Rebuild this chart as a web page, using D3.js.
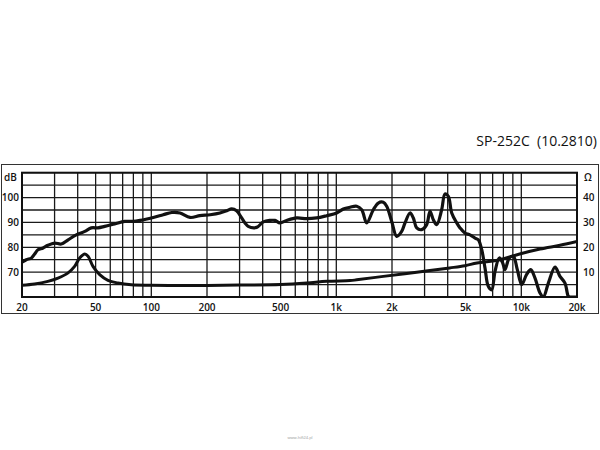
<!DOCTYPE html>
<html><head><meta charset="utf-8">
<script src="https://cdn.jsdelivr.net/npm/d3@7"></script>
<style>html,body{margin:0;padding:0;background:#fff;}svg{display:block;}</style>
</head><body>
<svg id="c" width="600" height="450"></svg>
<script>
const title = "SP-252C\u00A0\u00A0(10.2810)";
const xTickLabels = [[20,"20"],[50,"50"],[100,"100"],[200,"200"],[500,"500"],[1000,"1k"],[2000,"2k"],[5000,"5k"],[10000,"10k"],[20000,"20k"]];
const dbTicks = [70,80,90,100];
const ohmTicks = [10,20,30,40];

// SPL frequency response [Hz, dB]
const splFreq = [20,21.1,22.5,23.4,24.4,26,27.6,30,32.6,35.5,39.3,43.7,47.4,51.5,56,63.4,71.8,79.6,86.9,102.5,116,129,143,162,183,208,235,256,272,289,308,321,334,371,403,438,466,496,539,611,692,783,887,1005,1091,1186,1289,1372,1460,1585,1686,1795,1872,1993,2120,2256,2352,2503,2608,2720,2894,3080,3210,3345,3490,3711,3868,4032,4206,4476,4664,4960,5280,5618,5856,6110,6364,6630,6916,7210,7604,7932,8160,8612,9052,9514,10050,10670,11240,11860,12620,13150,14000,15210,16180,17220,17950,18300,20000];
const splDb = [74,75,75.7,77.3,79,79.7,80.8,81.7,81.3,83,85,86.4,87.8,87.8,88.4,89.4,90.4,90.4,90.8,92,93.1,94,93.8,92,92.7,93.1,93.8,94.7,95.5,94.7,91.8,89.8,88.4,88,90.2,90.8,90.8,89.8,90.8,91.8,91.5,91.8,92.7,93.8,95.4,96.1,96.5,95.1,89.8,95.1,97.8,98.1,96.5,90.4,84.4,86.4,89.8,93.8,91.8,87.8,87.1,89.1,94.5,91.1,89.1,95.1,101.4,100.5,93.8,89.8,87.8,85.7,85,83.7,83,79,71.7,64.3,62.9,70.3,75.7,73.7,71,75.7,76.4,71,65,69,71,67.6,61.6,60,65.6,72,68.3,65.6,60.3,60,60];

// Impedance [Hz, Ohm]
const impFreq = [20,23.4,27.6,31.3,35.5,38.5,41,43.7,45.5,48.4,52.6,58.3,66,78,100,150,200,300,500,692,887,1186,1289,1795,2720,4100,4960,5760,7670,9800,12620,16180,20000];
const impOhm = [4.7,5.2,6.3,7.6,9.7,12.3,15.7,17.3,16.4,12.3,9,6.7,5.6,4.9,4.7,4.6,4.6,4.8,5.0,5.6,6.3,6.6,6.9,8.3,10,11.7,12.6,13.7,15,17.3,19.3,20.8,22.3];

const svg = d3.select("#c");
const L = 22, R = 577, T = 172.7, B = 297;
const x = d3.scaleLog().domain([20,20000]).range([L,R]);
const y = d3.scaleLinear().domain([60,110]).range([B,T]);
const yR = d3.scaleLinear().domain([0,50]).range([B,T]);

// outer frame
svg.append("rect").attr("x",1.5).attr("y",164.5).attr("width",597).attr("height",149)
  .attr("fill","none").attr("stroke","#333").attr("stroke-width",1);

// title
svg.append("text").attr("x",597).attr("y",146).attr("text-anchor","end")
  .attr("font-family","'Open Sans', sans-serif").attr("font-size",14).attr("fill","#111")
  .text(title);

const grid = svg.append("g").attr("stroke","#1a1a1a").attr("stroke-width",1.3);
grid.selectAll("line.h").data(d3.range(60,111,5)).join("line")
  .attr("x1",L).attr("x2",R).attr("y1",d=>y(d)).attr("y2",d=>y(d));
grid.selectAll("line.v").data(x.ticks()).join("line")
  .attr("x1",d=>x(d)).attr("x2",d=>x(d)).attr("y1",T).attr("y2",B);
svg.append("rect").attr("x",L).attr("y",T).attr("width",R-L).attr("height",B-T)
  .attr("fill","none").attr("stroke","#111").attr("stroke-width",2);

svg.append("clipPath").attr("id","clip").append("rect")
  .attr("x",L).attr("y",T).attr("width",R-L).attr("height",B-T+1);

const splData = splFreq.map((f,i)=>[f,splDb[i]]);
const impData = impFreq.map((f,i)=>[f,impOhm[i]]);
const lineSpl = d3.line().x(d=>x(d[0])).y(d=>y(d[1])).curve(d3.curveCatmullRom.alpha(0.5));
const lineImp = d3.line().x(d=>x(d[0])).y(d=>yR(d[1])).curve(d3.curveCatmullRom.alpha(0.5));
const g = svg.append("g").attr("clip-path","url(#clip)");
g.append("path").attr("d",lineImp(impData)).attr("fill","none").attr("stroke","#111").attr("stroke-width",3).attr("stroke-linejoin","round");
g.append("path").attr("d",lineSpl(splData)).attr("fill","none").attr("stroke","#111").attr("stroke-width",3.2).attr("stroke-linejoin","round");

const font = "'Open Sans', sans-serif";
const lab = svg.append("g").attr("font-family",font).attr("font-size",10).attr("font-weight",600).attr("fill","#111");
lab.selectAll("text.x").data(xTickLabels).join("text")
  .attr("x",d=>x(d[0])).attr("y",311).attr("text-anchor","middle").text(d=>d[1]);
lab.selectAll("text.l").data(dbTicks).join("text")
  .attr("x",19).attr("y",d=>y(d)+3.5).attr("text-anchor","end").text(d=>d);
lab.selectAll("text.r").data(ohmTicks).join("text")
  .attr("x",583).attr("y",d=>yR(d)+3.5).attr("text-anchor","start").text(d=>d);
lab.append("text").attr("x",10.5).attr("y",181).attr("text-anchor","middle").text("dB");
lab.append("text").attr("x",588).attr("y",181).attr("text-anchor","middle").text("Ω");

svg.append("text").attr("x",300).attr("y",439).attr("text-anchor","middle")
  .attr("font-family",font).attr("font-size",4).attr("fill","#999").text("www.hifi24.pl");
</script>
</body></html>
